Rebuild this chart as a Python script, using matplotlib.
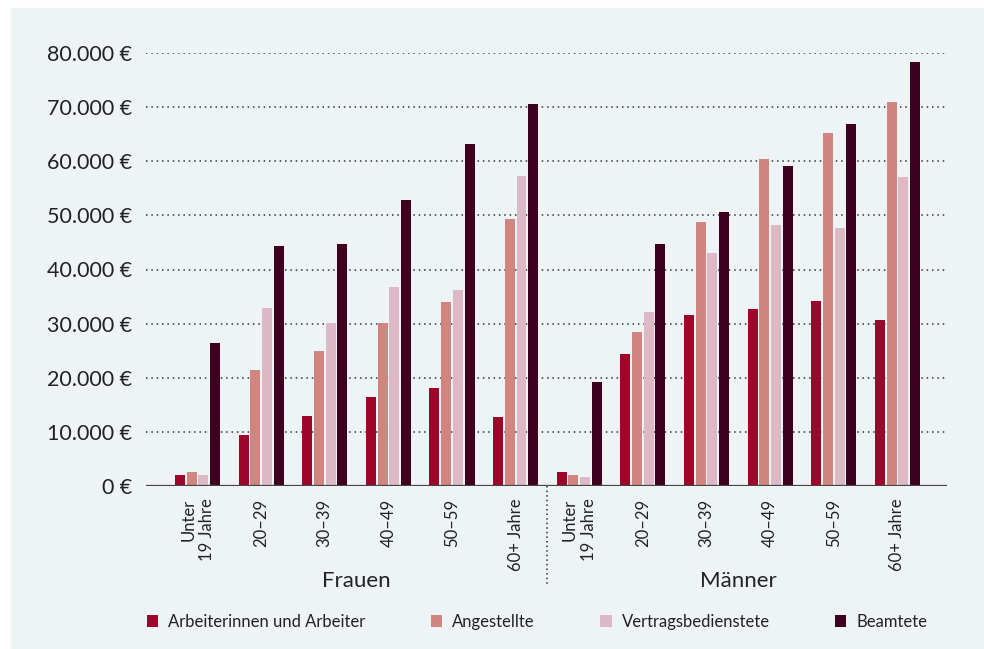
import matplotlib.pyplot as plt
import matplotlib.transforms as mtransforms
from matplotlib.patches import Rectangle
from matplotlib.ticker import FuncFormatter
import numpy as np

plt.rcParams['font.family'] = ['Lato', 'DejaVu Sans']

# data
age_groups = ['Unter\n19 Jahre', '20–29', '30–39', '40–49', '50–59', '60+ Jahre']
sexes = ['Frauen', 'Männer']
series = ['Arbeiterinnen und Arbeiter', 'Angestellte', 'Vertragsbedienstete', 'Beamtete']

arbeiter_f = [2000, 9400, 12900, 16500, 18100, 12800]
angestellte_f = [2600, 21400, 25000, 30100, 34000, 49400]
vertrag_f = [2000, 32900, 30100, 36800, 36200, 57300]
beamte_f = [26400, 44400, 44700, 52900, 63200, 70600]

arbeiter_m = [2600, 24400, 31600, 32700, 34200, 30700]
angestellte_m = [2000, 28500, 48800, 60500, 65300, 71000]
vertrag_m = [1700, 32200, 43100, 48300, 47700, 57000]
beamte_m = [19200, 44700, 50700, 59200, 66900, 78400]

colors = ['#9e0629', '#d08580', '#ddb8c5', '#3f0020']
text_col = '#222222'

values = [arbeiter_f + arbeiter_m, angestellte_f + angestellte_m,
          vertrag_f + vertrag_m, beamte_f + beamte_m]
labels = age_groups + age_groups

fig = plt.figure(figsize=(9.84, 6.49), dpi=100)
fig.patches.append(Rectangle((11/984, 0), 1 - 11/984, 1 - 8/649,
                             transform=fig.transFigure, color='#eef3f6', zorder=-10))

ax = fig.add_axes([146/984, 1 - 486/649, (947 - 146)/984, (486 - 53)/649])
ax.set_facecolor('none')

x = np.arange(len(labels))
step = 0.184
width = 0.157
for i, (vals, c, name) in enumerate(zip(values, colors, series)):
    ax.bar(x + (i - 1.5) * step, vals, width, color=c, label=name, zorder=3)

ax.set_xlim(-0.81, 11.78)
ax.set_ylim(0, 80000)
ax.set_yticks(np.arange(0, 80001, 10000))
ax.yaxis.set_major_formatter(FuncFormatter(lambda v, p: f'{v:,.0f} €'.replace(',', '.')))
ax.grid(axis='y', linestyle=(0, (1, 2.5)), color='#333333', linewidth=1.1, zorder=1)
ax.axhline(0, color='#444444', linewidth=1.6, zorder=4)

ax.set_xticks(x)
ax.set_xticklabels(labels, rotation=90, va='top', ha='center', multialignment='right')
ax.tick_params(axis='x', length=0, pad=9, labelsize=12, labelcolor=text_col)
ax.tick_params(axis='y', length=0, pad=10, labelsize=15.5, labelcolor=text_col)
for s in ax.spines.values():
    s.set_visible(False)

trans = mtransforms.blended_transform_factory(ax.transData, ax.transAxes)
for k, sex in enumerate(sexes):
    ax.text(2.5 + 6 * k, -0.219, sex, transform=trans, ha='center', va='center',
            fontsize=16, color=text_col)
ax.plot([5.5, 5.5], [0, -0.231], transform=trans, clip_on=False,
        linestyle=(0, (1, 2)), color='#333333', linewidth=1.1)

fig.legend(loc='center', bbox_to_anchor=(537/984, 1 - 622/649), ncol=4, frameon=False,
           fontsize=12, handlelength=0.7, handleheight=0.7, handletextpad=0.6,
           columnspacing=3.9, labelcolor=text_col)

fig.savefig('out.png', dpi=100)
